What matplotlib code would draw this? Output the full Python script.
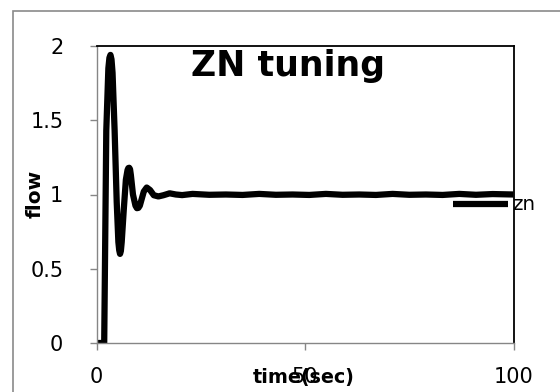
import matplotlib
matplotlib.use("Agg")
import matplotlib.pyplot as plt
from matplotlib.patches import Rectangle

# --- data ---
time = [0, 1.8, 2.3, 2.8, 3.05, 3.3, 3.55, 3.8, 4.3, 4.8, 5.2, 5.4, 5.6, 5.8,
        6.0, 6.5, 7.0, 7.4, 7.6, 7.8, 8.0, 8.2, 8.7, 9.3, 9.65, 10.0, 10.35,
        10.7, 11.3, 12.0, 12.8, 13.7, 14.8, 16.0, 17.5, 19.0, 20.5, 23, 27,
        31, 35, 39, 43, 47, 51, 55, 59, 63, 67, 71, 75, 79, 83, 87, 91, 95,
        100]
flow = [0, 0, 1.43, 1.85, 1.92, 1.94, 1.91, 1.82, 1.43, 0.95, 0.68, 0.625,
        0.60, 0.62, 0.68, 0.90, 1.10, 1.165, 1.178, 1.18, 1.17, 1.13, 1.00,
        0.925, 0.908, 0.91, 0.925, 0.96, 1.02, 1.047, 1.03, 0.995, 0.987,
        0.995, 1.008, 1.0, 0.996, 1.004, 0.998, 1.0, 0.997, 1.004, 0.998,
        1.0, 0.997, 1.004, 0.998, 1.0, 0.997, 1.004, 0.998, 1.0, 0.997,
        1.004, 0.998, 1.003, 1.0]
series_name = "zn"
title = "ZN tuning"
xlabel = "time(sec)"
ylabel = "flow"
xticks = [0, 50, 100]
yticks = [0, 0.5, 1, 1.5, 2]
ytick_labels = ["0", "0.5", "1", "1.5", "2"]

plt.rcParams["font.family"] = ["DejaVu Sans"]

W, H = 560, 392
fig = plt.figure(figsize=(W / 100, H / 100), dpi=100)
fig.patch.set_facecolor("white")

# outer chart border
fig.patches.append(Rectangle((13 / W, -0.1), 1.2, 1.1 - 11 / H,
                             transform=fig.transFigure, fill=False,
                             edgecolor="#8a8a8a", linewidth=1.2))

L, R, T, B = 96.7, 513.5, 46, 343
ax = fig.add_axes([L / W, 1 - B / H, (R - L) / W, (B - T) / H])

ln, = ax.plot(time, flow, color="black", linewidth=4.5,
              solid_joinstyle="round", solid_capstyle="butt", label=series_name)

ax.set_xlim(0, 100)
ax.set_ylim(0, 2)
ax.set_xticks(xticks)
ax.set_xticklabels([str(x) for x in xticks])
ax.set_yticks(yticks)
ax.set_yticklabels(ytick_labels)

for s in ("left", "bottom"):
    ax.spines[s].set_color("#868686")
    ax.spines[s].set_linewidth(1.0)
for s in ("top", "right"):
    ax.spines[s].set_color("black")
    ax.spines[s].set_linewidth(1.3)

ax.tick_params(axis="both", direction="out", color="#868686", width=1,
               length=5, labelsize=15, labelcolor="black")
ax.tick_params(axis="x", pad=12)
ax.tick_params(axis="y", pad=19)

fig.text(288 / W, 1 - 76 / H, title, ha="center", va="baseline",
         fontsize=25, fontweight="bold")
fig.text(304 / W, 1 - 383 / H, xlabel, ha="center", va="baseline",
         fontsize=13.8, fontweight="bold")
fig.text(35 / W, 1 - 194 / H, ylabel, ha="center", va="center",
         fontsize=14.5, fontweight="bold", rotation=90)

# legend (line sample + label) placed like the reference
leg = ax.legend(handles=[ln], labels=[series_name], loc="center left",
                bbox_to_anchor=((453 - L) / (R - L), (B - 205) / (B - T)),
                frameon=False, fontsize=14.3, handlelength=2.77,
                handletextpad=0.2, borderpad=0, borderaxespad=0)

fig.savefig("out.png", dpi=100, facecolor="white")
